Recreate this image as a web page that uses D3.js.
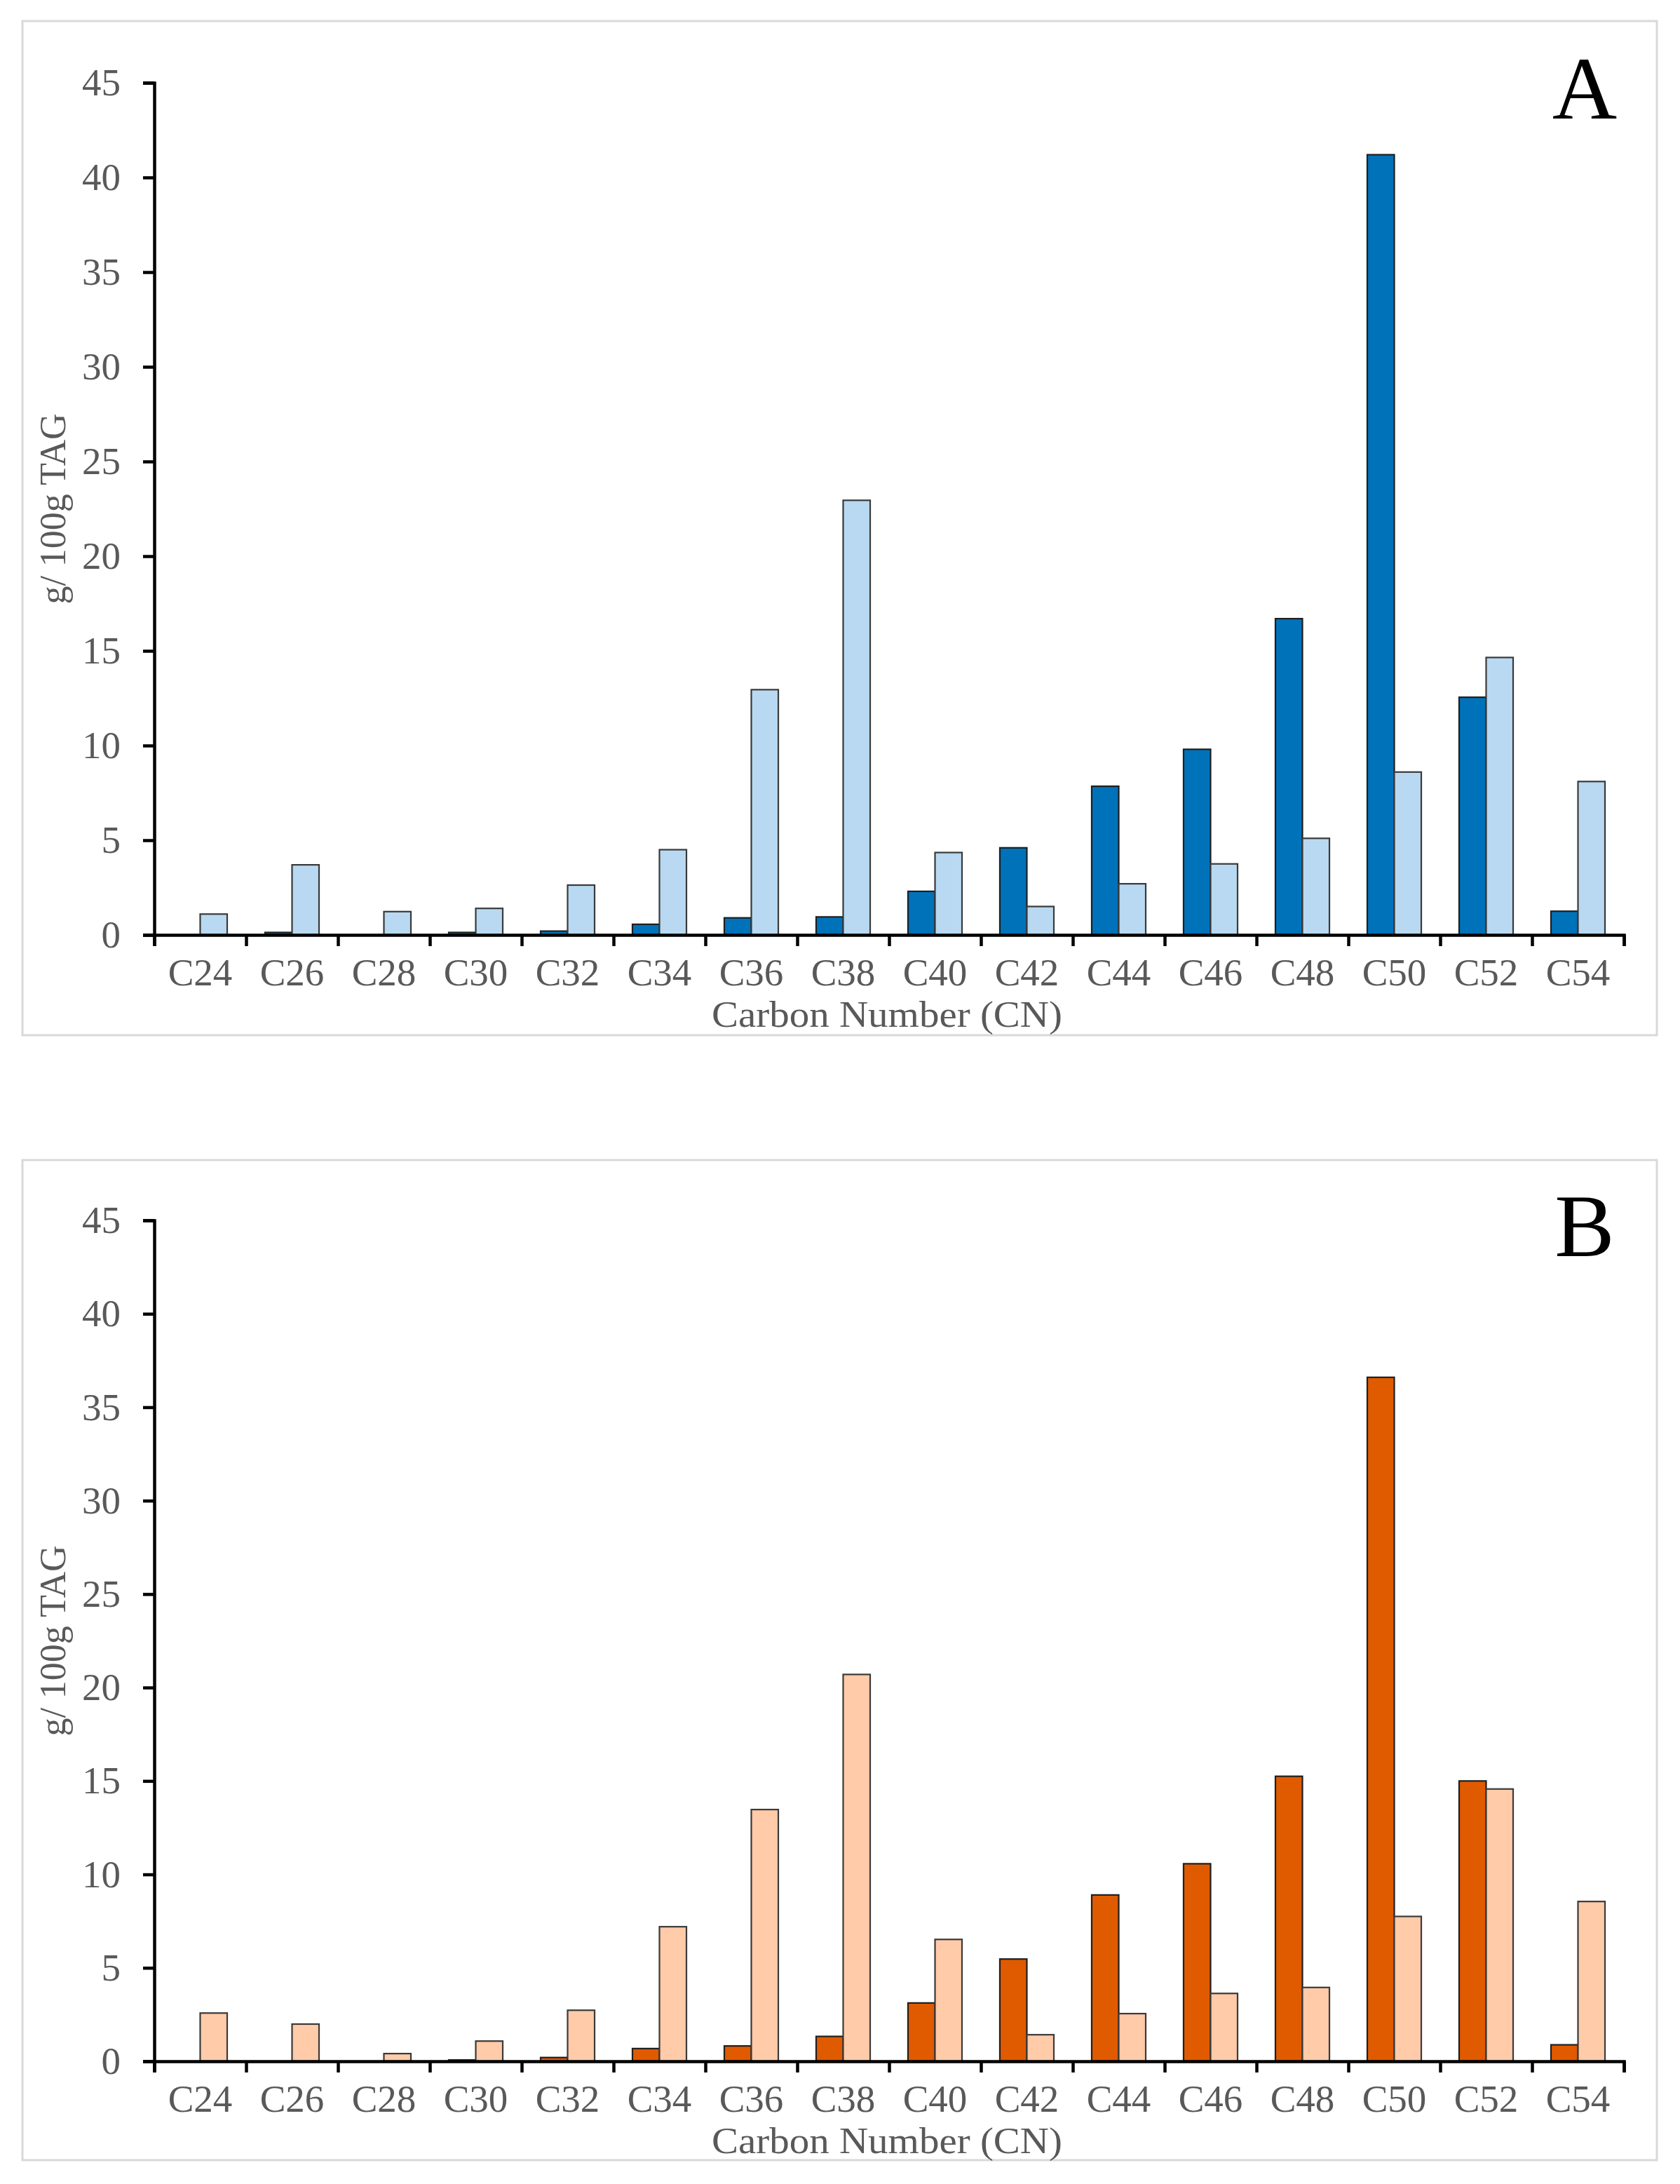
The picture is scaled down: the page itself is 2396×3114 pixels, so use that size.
<!DOCTYPE html>
<html>
<head>
<meta charset="utf-8">
<script src="https://cdn.jsdelivr.net/npm/d3@7/dist/d3.min.js"></script>
<style>
  html, body { margin: 0; padding: 0; background: #ffffff; }
  svg { display: block; }
</style>
</head>
<body>
<svg id="chart" width="2396" height="3114"></svg>
<script>
// ---- Data ----
const categories = ["C24","C26","C28","C30","C32","C34","C36","C38","C40","C42","C44","C46","C48","C50","C52","C54"];
const yTicks = [0,5,10,15,20,25,30,35,40,45];

const panelA_dark  = [0, 0.13, 0, 0.13, 0.2, 0.56, 0.9, 0.95, 2.3, 4.6, 7.85, 9.8, 16.7, 41.2, 12.55, 1.25];
const panelA_light = [1.1, 3.7, 1.23, 1.4, 2.63, 4.5, 12.95, 22.95, 4.35, 1.5, 2.7, 3.75, 5.1, 8.6, 14.65, 8.1];

const panelB_dark  = [0, 0, 0, 0.07, 0.2, 0.68, 0.82, 1.33, 3.12, 5.47, 8.9, 10.57, 15.25, 36.6, 15.0, 0.88];
const panelB_light = [2.58, 1.99, 0.41, 1.08, 2.73, 7.2, 13.47, 20.7, 6.52, 1.42, 2.55, 3.63, 3.95, 7.75, 14.57, 8.55];

const panelLabels = ["A", "B"];
const xTitle = "Carbon Number (CN)";
const yTitle = "g/ 100g TAG";

// ---- Layout ----
const panels = [
  { label: panelLabels[0], dark: panelA_dark, light: panelA_light,
    colDark: "#0072BA", colLight: "#B8D9F1",
    frameTop: 30, frameBottom: 1476, yTop: 118, yZero: 1333 },
  { label: panelLabels[1], dark: panelB_dark, light: panelB_light,
    colDark: "#E05A00", colLight: "#FFCBA9",
    frameTop: 1654, frameBottom: 3080, yTop: 1740, yZero: 2939 }
];
const frameLeft = 32, frameRight = 2363;
const plotLeft = 220, plotRight = 2316;
const serif = "'Liberation Serif', 'Times New Roman', serif";
const gray = "#595959";

const svg = d3.select("#chart");

const x = d3.scaleBand().domain(categories).range([plotLeft, plotRight])
  .paddingInner(0.412).paddingOuter(0.206);
const xSub = d3.scaleBand().domain(["dark","light"]).range([0, x.bandwidth()]);
const xEdge = d3.scaleLinear().domain([0, categories.length]).range([plotLeft, plotRight]);

panels.forEach(p => {
  const g = svg.append("g");

  // frame
  g.append("rect")
    .attr("x", frameLeft).attr("y", p.frameTop)
    .attr("width", frameRight - frameLeft).attr("height", p.frameBottom - p.frameTop)
    .attr("fill", "#ffffff").attr("stroke", "#d9d9d9").attr("stroke-width", 3);

  const y = d3.scaleLinear().domain([0, 45]).range([p.yZero, p.yTop]);

  // bars
  const rows = categories.map((c, i) => ({ c, dark: p.dark[i], light: p.light[i] }));
  const grp = g.append("g").selectAll("g").data(rows).join("g")
    .attr("transform", d => `translate(${x(d.c)},0)`);
  grp.selectAll("rect")
    .data(d => [{ k: "dark", v: d.dark }, { k: "light", v: d.light }])
    .join("rect")
    .attr("x", d => xSub(d.k))
    .attr("width", xSub.bandwidth())
    .attr("y", d => y(d.v))
    .attr("height", d => y(0) - y(d.v))
    .attr("fill", d => d.k === "dark" ? p.colDark : p.colLight)
    .attr("stroke", d => d.k === "dark" ? "#1f1f1f" : "#3a3a3a")
    .attr("stroke-width", 2.2);

  // y axis
  const yAxis = g.append("g")
    .attr("transform", `translate(${plotLeft},0)`)
    .call(d3.axisLeft(y).tickValues(yTicks).tickSize(16).tickSizeOuter(16).tickPadding(32));
  yAxis.select(".domain").attr("stroke", "#000").attr("stroke-width", 4.5);
  yAxis.selectAll(".tick line").attr("stroke", "#000").attr("stroke-width", 4.5);
  yAxis.selectAll(".tick text")
    .attr("font-family", serif).attr("font-size", 55).attr("fill", gray);

  // x axis (boundary ticks)
  const xAxis = g.append("g")
    .attr("transform", `translate(0,${p.yZero})`)
    .call(d3.axisBottom(xEdge).tickValues(d3.range(categories.length + 1))
      .tickSize(16).tickSizeOuter(16).tickFormat(""));
  xAxis.select(".domain").attr("stroke", "#000").attr("stroke-width", 4.5);
  xAxis.selectAll(".tick line").attr("stroke", "#000").attr("stroke-width", 4.5);

  // category labels
  g.append("g").selectAll("text").data(categories).join("text")
    .attr("x", d => x(d) + x.bandwidth() / 2)
    .attr("y", p.yZero + 72)
    .attr("text-anchor", "middle")
    .attr("font-family", serif).attr("font-size", 55).attr("fill", gray)
    .text(d => d);

  // x title
  g.append("text")
    .attr("x", (plotLeft + plotRight) / 2 - 3)
    .attr("y", p.yZero + 131)
    .attr("text-anchor", "middle")
    .attr("font-family", serif).attr("font-size", 52).attr("fill", gray)
    .attr("textLength", 500).attr("lengthAdjust", "spacingAndGlyphs")
    .text(xTitle);

  // y title
  const yc = (p.yTop + p.yZero) / 2;
  g.append("text")
    .attr("transform", `translate(93,${yc}) rotate(-90)`)
    .attr("text-anchor", "middle")
    .attr("font-family", serif).attr("font-size", 52).attr("fill", gray)
    .text(yTitle);

  // panel letter
  g.append("text")
    .attr("x", 2260).attr("y", p.yTop + 51)
    .attr("text-anchor", "middle")
    .attr("font-family", serif).attr("font-size", 128).attr("fill", "#000")
    .text(p.label);
});
</script>
</body>
</html>
